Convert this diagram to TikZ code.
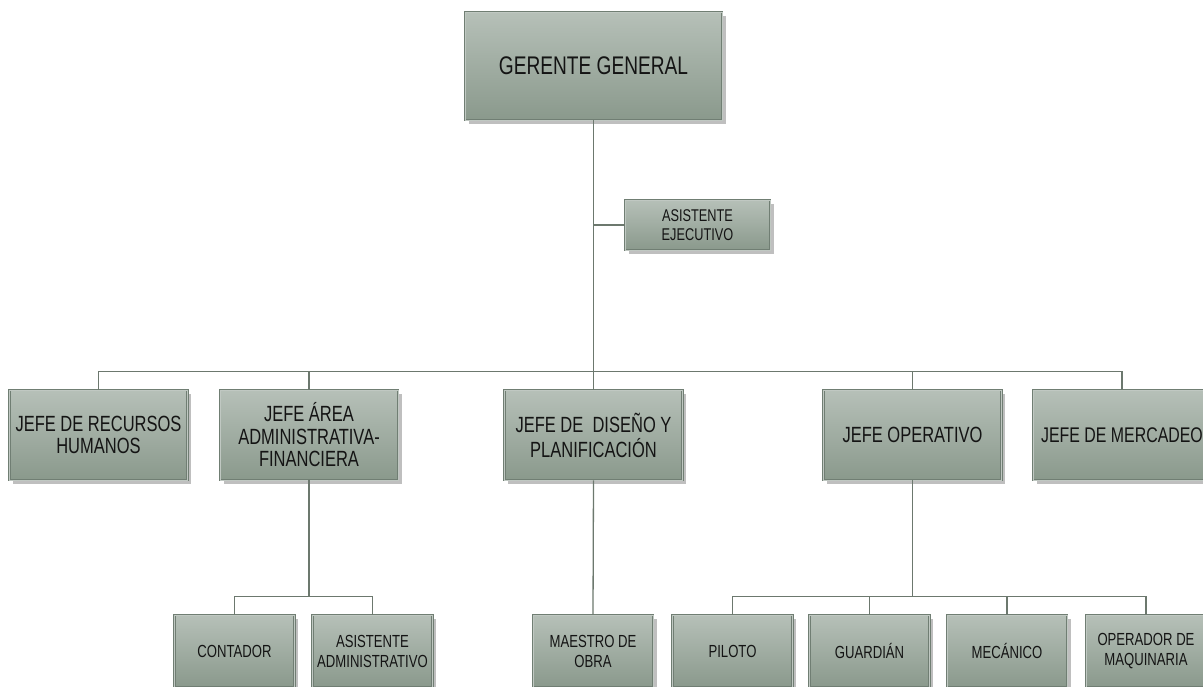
\documentclass[tikz,border=0pt]{standalone}
\usepackage{fontspec}
\setmainfont[FakeStretch=0.75]{Liberation Sans}
\usetikzlibrary{shadows}
\definecolor{boxtop}{RGB}{182,192,184}
\definecolor{boxbot}{RGB}{138,153,140}
\definecolor{boxline}{RGB}{112,126,115}
\definecolor{boxgap}{RGB}{192,200,194}
\definecolor{conn}{RGB}{108,120,110}
\definecolor{txt}{RGB}{20,20,20}
\tikzset{
  orgbox/.style={rectangle, inner sep=0pt, align=center, text=txt,
    top color=boxtop, bottom color=boxbot,
    draw=boxline, line width=0.7pt, double=boxgap, double distance=0.9pt,
    drop shadow={shadow xshift=3.5pt, shadow yshift=-3.5pt, fill=black!45, opacity=0.55}},
  lvltop/.style={orgbox, minimum width=257pt, minimum height=108pt, font=\fontsize{25.5}{27}\selectfont},
  lvltwo/.style={orgbox, minimum width=178pt, minimum height=90pt, font=\fontsize{22}{22.5}\selectfont},
  lvlthree/.style={orgbox, minimum width=120pt, minimum height=72pt, font=\fontsize{17.5}{20}\selectfont},
  aebox/.style={orgbox, minimum width=145pt, minimum height=50pt, font=\fontsize{17}{18.5}\selectfont},
  link/.style={draw=conn, line width=1.3pt}
}
\begin{document}
\begin{tikzpicture}[x=1pt, y=-1pt]
\useasboundingbox (0,0) rectangle (1203,686);
\clip (0,0) rectangle (1203,686);
\fill[white] (0,0) rectangle (1203,686);

% top
\node[lvltop] (gg) at (593.5,66) {GERENTE GENERAL};
\node[aebox] (ae) at (697.5,225) {ASISTENTE\\EJECUTIVO};

% level two
\node[lvltwo] (rh)  at (98.5,435)  {JEFE DE RECURSOS\\HUMANOS};
\node[lvltwo] (adm) at (309,435)   {JEFE ÁREA\\ADMINISTRATIVA-\\FINANCIERA};
\node[lvltwo, font=\fontsize{22}{25}\selectfont] (dis) at (593.5,435) {JEFE DE \ DISEÑO Y\\PLANIFICACIÓN};
\node[lvltwo] (op)  at (912.5,435) {JEFE OPERATIVO};
\node[lvltwo, font=\fontsize{21.2}{22.5}\selectfont] (mer) at (1122,435)  {JEFE DE MERCADEO};

% level three
\node[lvlthree] (cont) at (234.5,651) {CONTADOR};
\node[lvlthree] (asad) at (372.5,651) {ASISTENTE\\ADMINISTRATIVO};
\node[lvlthree] (maes) at (593,651)   {MAESTRO DE\\OBRA};
\node[lvlthree] (pil)  at (732.5,651) {PILOTO};
\node[lvlthree] (gua)  at (869.5,651) {GUARDIÁN};
\node[lvlthree] (mec)  at (1007,651)  {MECÁNICO};
\node[lvlthree] (opm)  at (1146,651)  {OPERADOR DE\\MAQUINARIA};

\coordinate (busA) at (593.5,372);
\coordinate (busB) at (309,597);
\coordinate (busC) at (912.5,597);

% connectors
\path[link] (gg.south) -- (busA);
\path[link] (ae.west) -- (ae.west -| gg.south);
\path[link] (rh.north) -- ++(0,-18) -| (mer.north);
\path[link] (adm.north) -- (adm.north |- busA);
\path[link] (dis.north) -- (dis.north |- busA);
\path[link] (op.north) -- (op.north |- busA);

\path[link] (adm.south) -- (busB);
\path[link] (cont.north) -- ++(0,-18) -| (asad.north);
\path[link] (dis.south) -- (maes.north);
\path[link] (op.south) -- (busC);
\path[link] (pil.north) -- ++(0,-18) -| (opm.north);
\path[link] (gua.north) -- ++(0,-18);
\path[link] (mec.north) -- ++(0,-18);
\end{tikzpicture}
\end{document}
